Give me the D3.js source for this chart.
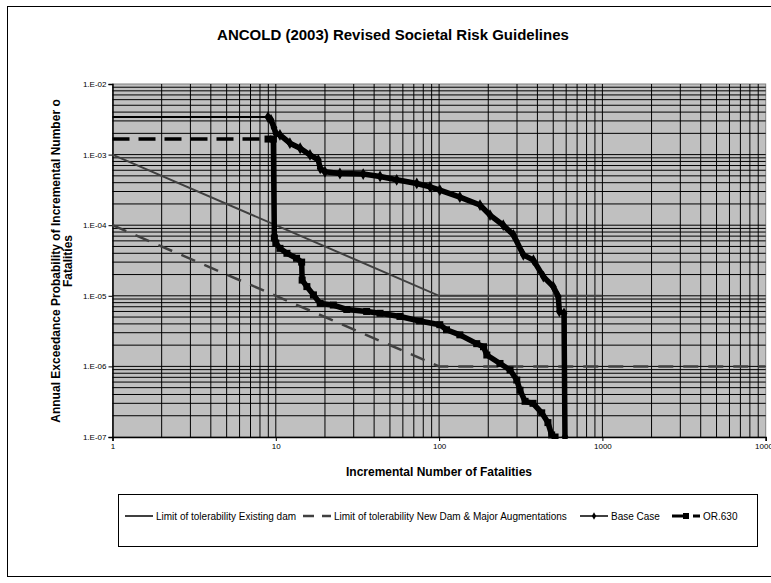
<!DOCTYPE html>
<html>
<head>
<meta charset="utf-8">
<script src="https://cdn.jsdelivr.net/npm/d3@7"></script>
<style>
  html, body { margin: 0; padding: 0; background: #fff; overflow: hidden; }
  text { font-family: "Liberation Sans", Arial, sans-serif; }
</style>
</head>
<body>
<svg id="chart" width="771" height="583"></svg>
<script>
// ---- data ----
const xTickValues = [1, 10, 100, 1000, 10000];
const xTickLabels = ["1", "10", "100", "1000", "10000"];
const yTickValues = [1e-2, 1e-3, 1e-4, 1e-5, 1e-6, 1e-7];
const yTickLabels = ["1.E-02", "1.E-03", "1.E-04", "1.E-05", "1.E-06", "1.E-07"];

const seriesNames = [
  "Limit of tolerability Existing dam",
  "Limit of tolerability New Dam & Major Augmentations",
  "Base Case",
  "OR.630"
];

// ANCOLD limit of tolerability, existing dams
const existingDamN = [1, 100, 1000];
const existingDamP = [1e-3, 1e-5, 1e-5];

// ANCOLD limit of tolerability, new dams & major augmentations
const newDamN = [1, 100, 10000];
const newDamP = [1e-4, 1e-6, 1e-6];

// Base Case F-N curve
const baseCaseN = [1, 8.96, 9.35, 9.75, 10.0, 10.6, 12.2, 14.1, 16.2, 18.2, 18.7, 20, 24.7, 34.3, 43.5, 55,
  73, 88, 101, 134, 178, 205, 247, 285, 328, 378, 435, 500, 537, 545, 582, 590];
const baseCaseP = [3.4e-3, 3.4e-3, 3.1e-3, 2.4e-3, 2.0e-3, 1.9e-3, 1.45e-3, 1.23e-3, 9.9e-4, 8.4e-4, 6.4e-4,
  5.7e-4, 5.4e-4, 5.3e-4, 4.9e-4, 4.4e-4, 3.9e-4, 3.5e-4, 3.15e-4, 2.5e-4, 1.93e-4, 1.39e-4, 1.0e-4, 7.3e-5,
  3.8e-5, 3.2e-5, 1.87e-5, 1.35e-5, 9.7e-6, 6.0e-6, 5.65e-6, 1.0e-7];

// OR.630 F-N curve
const or630N = [1, 8.96, 9.66, 9.8, 10.0, 10.6, 11.7, 13.4, 14.4, 14.5, 15.5, 17.0, 18.7, 22.5, 27.2, 36, 43.5,
  57.6, 76, 101, 111, 134, 170, 187, 196, 236, 272, 299, 313, 336, 376, 425, 464, 489, 513];
const or630P = [1.66e-3, 1.66e-3, 1.66e-3, 6.6e-5, 5.6e-5, 4.7e-5, 4.0e-5, 3.4e-5, 3.0e-5, 1.67e-5, 1.35e-5,
  1.03e-5, 7.8e-6, 7.4e-6, 6.4e-6, 6.0e-6, 5.65e-6, 5.1e-6, 4.4e-6, 3.9e-6, 3.3e-6, 2.8e-6, 2.1e-6, 1.9e-6,
  1.45e-6, 1.1e-6, 8.9e-7, 6.4e-7, 4.6e-7, 3.2e-7, 3.0e-7, 2.2e-7, 1.6e-7, 1.07e-7, 1.0e-7];

// ---- layout ----
const plot = { left: 112.5, right: 765.7, top: 84, bottom: 437 };

const svg = d3.select("#chart");

const x = d3.scaleLog().domain([1, 10000]).range([plot.left, plot.right]);
const y = d3.scaleLog().domain([1e-7, 1e-2]).range([plot.bottom, plot.top]);

const zip = (a, b) => a.map((v, i) => [v, b[i]]);

// chart frame
svg.append("rect")
  .attr("x", 7.5).attr("y", 6.5).attr("width", 800).attr("height", 570)
  .attr("fill", "#fff").attr("stroke", "#000").attr("stroke-width", 1);

// title
svg.append("text")
  .attr("x", 393).attr("y", 40)
  .attr("text-anchor", "middle")
  .attr("font-size", 15).attr("font-weight", "bold")
  .text("ANCOLD (2003) Revised Societal Risk Guidelines");

// plot area
svg.append("rect")
  .attr("x", plot.left).attr("y", plot.top)
  .attr("width", plot.right - plot.left).attr("height", plot.bottom - plot.top)
  .attr("fill", "#c0c0c0").attr("stroke", "#808080").attr("stroke-width", 1);

svg.append("clipPath").attr("id", "plotClip")
  .append("rect")
  .attr("x", plot.left - 3).attr("y", plot.top - 2)
  .attr("width", plot.right - plot.left + 3).attr("height", plot.bottom - plot.top + 4);

// log gridlines (1..9 per decade)
const xGrid = [];
for (let d = 0; d < 4; d++) for (let k = 1; k <= 9; k++) xGrid.push(k * Math.pow(10, d));
const yGrid = [];
for (let d = -7; d < -2; d++) for (let k = 1; k <= 9; k++) yGrid.push(k * Math.pow(10, d));

const grid = svg.append("g").attr("stroke", "#000").attr("stroke-width", 1);
grid.selectAll("line.gx").data(xGrid.filter(v => v > 1)).join("line")
  .attr("class", "gx")
  .attr("x1", d => x(d)).attr("x2", d => x(d))
  .attr("y1", plot.top).attr("y2", plot.bottom);
grid.selectAll("line.gy").data(yGrid.filter(v => v > 1e-7)).join("line")
  .attr("class", "gy")
  .attr("x1", plot.left).attr("x2", plot.right)
  .attr("y1", d => y(d)).attr("y2", d => y(d));

// axes
const xAxis = d3.axisBottom(x).tickValues(xTickValues).tickSize(4)
  .tickFormat((d, i) => xTickLabels[i]);
const gx = svg.append("g").attr("transform", `translate(0,${plot.bottom})`).call(xAxis);
gx.select(".domain").attr("stroke", "#000").attr("stroke-width", 1.5);
gx.selectAll(".tick line").attr("stroke", "#000");
gx.selectAll(".tick text").attr("font-size", 8).attr("font-family", "Liberation Sans, Arial, sans-serif")
  .attr("fill", "#000").attr("dy", "0.9em").attr("y", 5);

const yAxis = d3.axisLeft(y).tickValues(yTickValues).tickSize(4)
  .tickFormat((d, i) => yTickLabels[i]);
const gy = svg.append("g").attr("transform", `translate(${plot.left},0)`).call(yAxis);
gy.select(".domain").attr("stroke", "#000").attr("stroke-width", 1.5);
gy.selectAll(".tick line").attr("stroke", "#000");
gy.selectAll(".tick text").attr("font-size", 8).attr("font-family", "Liberation Sans, Arial, sans-serif")
  .attr("fill", "#000").attr("x", -6);

// axis titles
svg.append("text")
  .attr("x", 439).attr("y", 476)
  .attr("text-anchor", "middle")
  .attr("font-size", 12).attr("font-weight", "bold")
  .text("Incremental Number of Fatalities");

const yTitle = svg.append("text")
  .attr("transform", "translate(59.5,261) rotate(-90)")
  .attr("text-anchor", "middle")
  .attr("font-size", 12).attr("font-weight", "bold");
yTitle.append("tspan").attr("x", 0).attr("y", 0).text("Annual Exceedance Probability of Incremental Number o");
yTitle.append("tspan").attr("x", 0).attr("y", 12.5).text("Fatalities");

// series
const line = d3.line().x(d => x(d[0])).y(d => y(d[1]));
const series = svg.append("g").attr("clip-path", "url(#plotClip)");

series.append("path")
  .attr("d", line(zip(existingDamN, existingDamP)))
  .attr("fill", "none").attr("stroke", "#404040").attr("stroke-width", 2);

series.append("path")
  .attr("d", line(zip(newDamN, newDamP)))
  .attr("fill", "none").attr("stroke", "#404040").attr("stroke-width", 2.5)
  .attr("stroke-dasharray", "15,10");

const basePts = zip(baseCaseN, baseCaseP);
series.append("path")
  .attr("d", line(basePts))
  .attr("fill", "none").attr("stroke", "#000").attr("stroke-width", 2);
series.append("path")
  .attr("d", line(basePts.slice(1)))
  .attr("fill", "none").attr("stroke", "#000").attr("stroke-width", 5.5)
  .attr("stroke-linejoin", "round").attr("stroke-linecap", "round");
series.selectAll("path.bmark").data(basePts.slice(1)).join("path")
  .attr("class", "bmark")
  .attr("d", d3.symbol(d3.symbolDiamond, 40))
  .attr("transform", d => `translate(${x(d[0])},${y(d[1])})`)
  .attr("fill", "#000");

const orPts = zip(or630N, or630P);
series.append("path")
  .attr("d", line(orPts.slice(0, 2)))
  .attr("fill", "none").attr("stroke", "#000").attr("stroke-width", 3.5)
  .attr("stroke-dasharray", "17,9");
series.append("path")
  .attr("d", line(orPts.slice(1)))
  .attr("fill", "none").attr("stroke", "#000").attr("stroke-width", 5.5)
  .attr("stroke-linejoin", "round").attr("stroke-linecap", "round");
series.selectAll("rect.omark").data(orPts.slice(1)).join("rect")
  .attr("class", "omark")
  .attr("x", d => x(d[0]) - 3.5).attr("y", d => y(d[1]) - 3.5)
  .attr("width", 7).attr("height", 7)
  .attr("fill", "#000");

// legend
const legend = svg.append("g");
legend.append("rect")
  .attr("x", 118.5).attr("y", 494.5).attr("width", 639).attr("height", 52)
  .attr("fill", "#fff").attr("stroke", "#000").attr("stroke-width", 1);

const ly = 516;
const legendItems = [
  { sx: 125, tx: 156, dash: null, width: 2, color: "#404040", marker: null },
  { sx: 303, tx: 334, dash: "11,8", width: 2.5, color: "#404040", marker: null },
  { sx: 580, tx: 611, dash: null, width: 1.5, color: "#000", marker: "diamond" },
  { sx: 672, tx: 703, dash: "15,6", width: 3, color: "#000", marker: "square" }
];
legendItems.forEach((it, i) => {
  const sample = legend.append("line")
    .attr("x1", it.sx).attr("x2", it.sx + 28)
    .attr("y1", ly).attr("y2", ly)
    .attr("stroke", it.color).attr("stroke-width", it.width);
  if (it.dash) sample.attr("stroke-dasharray", it.dash);
  if (it.marker === "diamond") {
    legend.append("path").attr("d", d3.symbol(d3.symbolDiamond, 16))
      .attr("transform", `translate(${it.sx + 14},${ly})`).attr("fill", "#000");
  } else if (it.marker === "square") {
    legend.append("rect").attr("x", it.sx + 14 - 3).attr("y", ly - 3)
      .attr("width", 6).attr("height", 6).attr("fill", "#000");
  }
  legend.append("text")
    .attr("x", it.tx).attr("y", ly + 3.5)
    .attr("font-size", 10)
    .text(seriesNames[i]);
});
</script>
</body>
</html>
